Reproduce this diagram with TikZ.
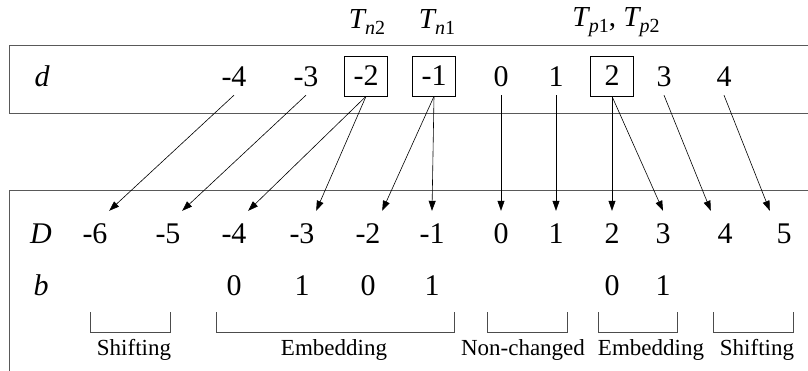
\documentclass[tikz,border=0pt]{standalone}
\usepackage{fontspec}
\setmainfont{Liberation Serif}
\usetikzlibrary{
    arrows.meta,
    positioning,
    calc
}
\tikzstyle{val} = [
    inner xsep=0pt,
    inner ysep=8pt,
    minimum width=28pt,
    text height=20pt,
    text depth=0pt,
    font=\fontsize{30}{34}\selectfont
]
\tikzstyle{marked} = [
    val,
    draw=black,
    line width=0.7pt,
    minimum width=43pt,
    minimum height=40pt,
    inner ysep=0pt
]
\tikzstyle{res} = [
    val,
    inner ysep=13pt
]
\tikzstyle{rowname} = [
    val,
    font=\fontsize{30}{34}\selectfont\itshape
]
\tikzstyle{tname} = [
    font=\fontsize{29}{32}\selectfont
]
\tikzstyle{group} = [
    font=\fontsize{23}{27}\selectfont
]
\tikzstyle{frame} = [
    line width=0.8pt,
    draw=black!65
]
\tikzstyle{brace} = [
    line width=0.7pt,
    draw=black!70
]
\tikzstyle{flow} = [
    -{Triangle[length=10pt,width=7pt]},
    line width=0.6pt,
    draw=black
]
\newcommand{\Tsub}[2]{\textit{T}\kern-1.5pt\raisebox{-6pt}{\fontsize{20}{20}\selectfont\textit{#1}#2}}

\begin{document}
\begin{tikzpicture}[x=1pt, y=-1pt]
        \useasboundingbox (0,0) rectangle (808,371);

        % Frames
        \draw[frame] (808,113) -- (9,113) -- (9,45) -- (808,45);
        \draw[frame] (9,371) -- (9,190) -- (808,190);

        % Original values d
        \node[rowname] (dlab) at (42,77) {d};
        \node[val] (dm4) at (234,77) {-4};
        \node[val] (dm3) at (306,77) {-3};
        \node[marked] (dm2) at (366,76) {-2};
        \node[marked] (dm1) at (434,76) {-1};
        \node[val] (d0) at (501,77) {0};
        \node[val] (d1) at (556,77) {1};
        \node[marked] (d2) at (612,76) {2};
        \node[val] (d3) at (664,77) {3};
        \node[val] (d4) at (724,77) {4};

        % Thresholds
        \node[tname] (tn2) at (367,22) {\Tsub{n}{2}};
        \node[tname] (tn1) at (437,22) {\Tsub{n}{1}};
        \node[tname] (tp) at (616,22) {\Tsub{p}{1}, \Tsub{p}{2}};

        % Marked values D
        \node[rowname] (Dlab) at (41,234) {D};
        \node[res] (Dm6) at (95,234) {-6};
        \node[res] (Dm5) at (168,234) {-5};
        \node[res] (Dm4) at (234,234) {-4};
        \node[res] (Dm3) at (302,234) {-3};
        \node[res] (Dm2) at (368,234) {-2};
        \node[res] (Dm1) at (432,234) {-1};
        \node[res] (D0) at (501,234) {0};
        \node[res] (D1) at (556,234) {1};
        \node[res] (D2) at (612,234) {2};
        \node[res] (D3) at (663,234) {3};
        \node[res] (D4) at (725,234) {4};
        \node[res] (D5) at (784,234) {5};

        % Bits b
        \node[rowname] (blab) at (41,285) {b};
        \node[val] (bm4) at (Dm4 |- blab) {0};
        \node[val] (bm3) at (Dm3 |- blab) {1};
        \node[val] (bm2) at (Dm2 |- blab) {0};
        \node[val] (bm1) at (Dm1 |- blab) {1};
        \node[val] (b2) at (D2 |- blab) {0};
        \node[val] (b3) at (D3 |- blab) {1};

        % Arrows
        \draw[flow] (dm4.south) -- (Dm6.north east);
        \draw[flow] (dm3.south) -- (Dm5.north east);
        \draw[flow] (dm2.south) -- (Dm4.north east);
        \draw[flow] (dm2.south) -- (Dm3.north east);
        \draw[flow] (dm1.south) -- (Dm2.north east);
        \draw[flow] (dm1.south) -- (Dm1.north);
        \draw[flow] (d0.south) -- (D0.north);
        \draw[flow] (d1.south) -- (D1.north);
        \draw[flow] (d2.south) -- (D2.north);
        \draw[flow] (d2.south) -- (D3.north);
        \draw[flow] (d3.south) -- (D4.north west);
        \draw[flow] (d4.south) -- (D5.north west);

        % Groups
        \draw[brace] (90,312) -- (90,332) -- (170,332) -- (170,312);
        \draw[brace] (216,312) -- (216,332) -- (454,332) -- (454,312);
        \draw[brace] (487,312) -- (487,332) -- (567,332) -- (567,312);
        \draw[brace] (598,312) -- (598,332) -- (677,332) -- (677,312);
        \draw[brace] (713,312) -- (713,332) -- (793,332) -- (793,312);
        \node[group] (g1) at (134,350) {Shifting};
        \node[group] (g2) at (334,350) {Embedding};
        \node[group] (g3) at (523,350) {Non-changed};
        \node[group] (g4) at (651,350) {Embedding};
        \node[group] (g5) at (757,350) {Shifting};
    \end{tikzpicture}
\end{document}
